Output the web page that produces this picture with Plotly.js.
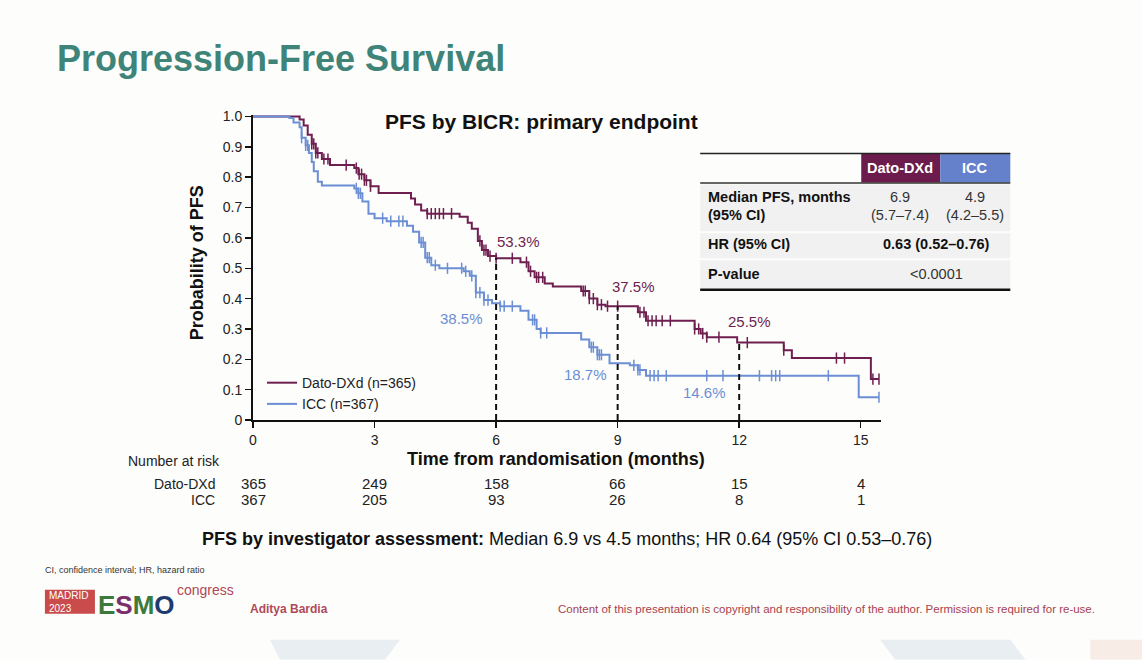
<!DOCTYPE html>
<html><head><meta charset="utf-8">
<script src="https://cdn.plot.ly/plotly-3.0.1.min.js"></script>
<style>html,body{margin:0;padding:0;background:#fdfdfb;}#chart{width:1142px;height:660px;}</style>
</head><body><div id="chart"></div>
<script>
// ---- Data ----
const datoTimes = [0,1.15,1.25,1.35,1.45,1.55,1.7,1.9,2.5,2.6,2.75,2.9,3.1,3.9,4.0,4.15,4.3,5.1,5.3,5.4,5.55,5.65,5.8,6.0,6.6,6.8,6.95,7.2,7.4,8.1,8.3,8.5,8.7,9.5,9.7,10.9,11.05,11.2,11.95,13.1,13.3,15.25,15.45];
const datoSurv  = [1.0,0.99,0.97,0.94,0.91,0.88,0.86,0.84,0.83,0.81,0.79,0.77,0.748,0.73,0.71,0.69,0.68,0.67,0.65,0.63,0.59,0.56,0.54,0.533,0.52,0.49,0.47,0.45,0.44,0.425,0.40,0.38,0.375,0.355,0.327,0.30,0.285,0.273,0.255,0.23,0.204,0.135,0.135];
const iccTimes = [0,0.9,1.0,1.15,1.2,1.3,1.38,1.45,1.5,1.6,1.7,2.5,2.6,2.7,2.85,3.0,3.3,3.8,3.95,4.1,4.25,4.4,4.6,5.2,5.35,5.5,5.7,5.9,6.1,6.6,6.8,7.0,7.1,8.1,8.3,8.5,8.8,9.3,9.5,9.7,14.95,15.45];
const iccSurv  = [1.0,0.995,0.98,0.965,0.93,0.905,0.88,0.85,0.82,0.785,0.773,0.763,0.747,0.72,0.68,0.665,0.655,0.64,0.62,0.585,0.535,0.51,0.50,0.49,0.475,0.42,0.395,0.385,0.375,0.36,0.33,0.30,0.287,0.265,0.24,0.215,0.187,0.18,0.165,0.146,0.075,0.075];
const datoCensor = [1.45,1.5,1.55,1.6,1.75,1.85,2.3,2.55,2.62,2.68,2.75,2.8,2.9,4.3,4.4,4.5,4.6,4.7,4.9,5.6,5.7,5.75,5.85,6.0,6.4,6.75,6.85,7.0,7.05,7.15,8.15,8.2,8.3,8.4,8.5,8.6,8.75,9.0,9.55,9.65,9.75,9.85,9.95,10.1,10.3,10.9,11.0,11.1,11.2,11.5,12.2,13.1,14.4,14.6,15.3,15.45];
const iccCensor = [1.2,1.3,1.35,2.55,2.6,2.65,3.2,3.4,3.6,3.7,4.15,4.2,4.3,4.35,4.5,4.8,5.15,5.25,5.4,5.5,5.6,5.7,5.8,6.1,6.2,6.4,6.9,6.95,7.1,7.25,8.35,8.4,8.5,8.55,8.6,9.4,9.5,9.55,9.8,9.9,10.0,10.2,11.2,11.6,12.5,12.8,12.9,13.0,14.2,15.45];
const landmarkTimes = [6,9,12];
const datoLandmarkLabels = ["53.3%","37.5%","25.5%"];
const iccLandmarkLabels = ["38.5%","18.7%","14.6%"];
const riskTimes = [0,3,6,9,12,15];
const riskDato = [365,249,158,66,15,4];
const riskICC = [367,205,93,26,8,1];
const xTicks = [0,3,6,9,12,15];
const yTicks = [0,0.1,0.2,0.3,0.4,0.5,0.6,0.7,0.8,0.9,1.0];
const yTickText = ["0","0.1","0.2","0.3","0.4","0.5","0.6","0.7","0.8","0.9","1.0"];

// ---- Styles ----
const PURPLE = "#6e1f50", BLUE = "#6b8ed4", TEAL = "#3f8478";
const F = '"Liberation Sans",Arial,sans-serif';

function stepAt(times, surv, t){ let v = surv[0]; for(let i=0;i<times.length;i++){ if(times[i]<=t) v=surv[i]; } return v; }

// pixel -> paper helpers
const L=253, R=1142-880.75, T=114.5, B=240;
const PW=1142-L-R, PH=660-T-B;
const px = x => (x-L)/PW, py = y => (660-B-y)/PH;

const traces = [
 {x:datoTimes,y:datoSurv,mode:'lines',line:{shape:'hv',color:PURPLE,width:2},name:'Dato-DXd (n=365)'},
 {x:iccTimes,y:iccSurv,mode:'lines',line:{shape:'hv',color:BLUE,width:2},name:'ICC (n=367)'},
 {x:datoCensor,y:datoCensor.map(t=>stepAt(datoTimes,datoSurv,t)),mode:'markers',showlegend:false,cliponaxis:false,
  marker:{symbol:'line-ns',size:8,line:{color:PURPLE,width:1.5}}},
 {x:iccCensor,y:iccCensor.map(t=>stepAt(iccTimes,iccSurv,t)),mode:'markers',showlegend:false,cliponaxis:false,
  marker:{symbol:'line-ns',size:8,line:{color:BLUE,width:1.5}}},
];
// landmark dashed lines
const lx=[], ly=[];
landmarkTimes.forEach(t=>{ lx.push(t,t,null); ly.push(0,stepAt(datoTimes,datoSurv,t),null); });
traces.push({x:lx,y:ly,mode:'lines',showlegend:false,line:{color:'#111',width:2,dash:'6px,4px'}});

const ann = [];
const A = (o)=>ann.push(Object.assign({showarrow:false,xref:'paper',yref:'paper',font:{family:F,size:15,color:'#222'}},o));
// landmark labels
const datoLabOff = [[0.55,0.055],[0.4,0.065],[0.25,0.07]];
const iccLabOff = [[-0.85,-0.05],[-0.8,-0.037],[-0.85,-0.054]];
landmarkTimes.forEach((t,i)=>{
  A({xref:'x',yref:'y',x:t+datoLabOff[i][0],y:stepAt(datoTimes,datoSurv,t)+datoLabOff[i][1],text:datoLandmarkLabels[i],font:{family:F,size:15,color:PURPLE}});
  A({xref:'x',yref:'y',x:t+iccLabOff[i][0],y:stepAt(iccTimes,iccSurv,t)+iccLabOff[i][1],text:iccLandmarkLabels[i],font:{family:F,size:15,color:BLUE}});
});
// titles
A({x:px(55),y:py(58),xanchor:'left',yanchor:'middle',text:'<b>Progression-Free Survival</b>',font:{family:F,size:36,color:TEAL}});
A({x:px(541),y:py(121),xanchor:'center',yanchor:'middle',text:'<b>PFS by BICR: primary endpoint</b>',font:{family:F,size:21,color:'#111'}});
A({x:px(197),y:py(262),textangle:-90,xanchor:'center',yanchor:'middle',text:'<b>Probability of PFS</b>',font:{family:F,size:18,color:'#111'}});
A({x:px(556),y:py(459),xanchor:'center',yanchor:'middle',text:'<b>Time from randomisation (months)</b>',font:{family:F,size:18,color:'#111'}});
// number at risk
A({x:px(222),y:py(461),xanchor:'right',yanchor:'middle',text:'Number at risk',font:{family:F,size:14,color:'#222'}});
A({x:px(217),y:py(484),xanchor:'right',yanchor:'middle',text:'Dato-DXd',font:{family:F,size:14,color:'#222'}});
A({x:px(217),y:py(500),xanchor:'right',yanchor:'middle',text:'ICC',font:{family:F,size:14,color:'#222'}});
riskTimes.forEach((t,i)=>{
  A({xref:'x',x:t,y:py(484),xanchor:'center',yanchor:'middle',text:String(riskDato[i]),font:{family:F,size:15,color:'#222'}});
  A({xref:'x',x:t,y:py(500),xanchor:'center',yanchor:'middle',text:String(riskICC[i]),font:{family:F,size:15,color:'#222'}});
});
// footer
A({x:px(200),y:py(539),xanchor:'left',yanchor:'middle',text:'<b>PFS by investigator assessment:</b> Median 6.9 vs 4.5 months; HR 0.64 (95% CI 0.53–0.76)',font:{family:F,size:18,color:'#111'}});
A({x:px(43),y:py(570),xanchor:'left',yanchor:'middle',text:'CI, confidence interval; HR, hazard ratio',font:{family:F,size:9,color:'#333'}});
A({x:px(47),y:py(602),xanchor:'left',yanchor:'middle',text:'MADRID<br>2023',align:'left',font:{family:F,size:10,color:'#fff'}});
A({x:px(96),y:py(605),xanchor:'left',yanchor:'middle',text:'<b><span style="color:#3c7a3c">E</span><span style="color:#7a2e6a">S</span><span style="color:#3c7a3c">M</span><span style="color:#1f3a6e">O</span></b>',font:{family:F,size:26,color:'#3c7a3c'}});
A({x:px(175),y:py(590),xanchor:'left',yanchor:'middle',text:'congress',font:{family:F,size:14,color:'#b04654'}});
A({x:px(248),y:py(609),xanchor:'left',yanchor:'middle',text:'<b>Aditya Bardia</b>',font:{family:F,size:12,color:'#b04a5a'}});
A({x:px(1097),y:py(609),xanchor:'right',yanchor:'middle',text:'Content of this presentation is copyright and responsibility of the author. Permission is required for re-use.',font:{family:F,size:11.5,color:'#a8414f'}});
// table text
A({x:px(706),y:py(197),xanchor:'left',yanchor:'middle',text:'<b>Median PFS, months</b>',font:{family:F,size:14.5,color:'#111'}});
A({x:px(706),y:py(215),xanchor:'left',yanchor:'middle',text:'<b>(95% CI)</b>',font:{family:F,size:14.5,color:'#111'}});
A({x:px(706),y:py(244),xanchor:'left',yanchor:'middle',text:'<b>HR (95% CI)</b>',font:{family:F,size:14.5,color:'#111'}});
A({x:px(706),y:py(274),xanchor:'left',yanchor:'middle',text:'<b>P-value</b>',font:{family:F,size:14.5,color:'#111'}});
A({x:px(900),y:py(168),xanchor:'center',yanchor:'middle',text:'<b>Dato-DXd</b>',font:{family:F,size:14.5,color:'#fff'}});
A({x:px(975),y:py(168),xanchor:'center',yanchor:'middle',text:'<b>ICC</b>',font:{family:F,size:14.5,color:'#fff'}});
A({x:px(900),y:py(197),xanchor:'center',yanchor:'middle',text:'6.9',font:{family:F,size:14.5,color:'#333'}});
A({x:px(900),y:py(215),xanchor:'center',yanchor:'middle',text:'(5.7–7.4)',font:{family:F,size:14.5,color:'#333'}});
A({x:px(975),y:py(197),xanchor:'center',yanchor:'middle',text:'4.9',font:{family:F,size:14.5,color:'#333'}});
A({x:px(975),y:py(215),xanchor:'center',yanchor:'middle',text:'(4.2–5.5)',font:{family:F,size:14.5,color:'#333'}});
A({x:px(936),y:py(244),xanchor:'center',yanchor:'middle',text:'<b>0.63 (0.52–0.76)</b>',font:{family:F,size:14.5,color:'#111'}});
A({x:px(936),y:py(274),xanchor:'center',yanchor:'middle',text:'<0.0001',font:{family:F,size:14.5,color:'#333'}});

const shapes = [];
const S = (o)=>shapes.push(Object.assign({xref:'paper',yref:'paper',layer:'below'},o));
const rect=(x0,y0,x1,y1,fill)=>S({type:'rect',x0:px(x0),x1:px(x1),y0:py(y0),y1:py(y1),fillcolor:fill,line:{width:0}});
const hline=(x0,x1,y,w,c)=>S({type:'line',x0:px(x0),x1:px(x1),y0:py(y),y1:py(y),line:{width:w,color:c}});
rect(861,153,940,182,'#6b1c4d');
rect(940,153,1010,182,'#6681cc');
rect(700,184,1010,231,'#f1f1f1');
rect(700,233,1010,258,'#f1f1f1');
rect(700,260,1010,288,'#f1f1f1');
hline(700,1010,153,1.5,'#222');
hline(700,1010,182.5,1.5,'#333');
hline(700,1010,289.5,2.5,'#111');
rect(45,590,95,614,'#c94b4b');
// faint bottom decoration
S({type:'path',path:`M ${px(270)} ${py(640)} L ${px(400)} ${py(640)} L ${px(385)} ${py(660)} L ${px(280)} ${py(660)} Z`,fillcolor:'#e8eef2',line:{width:0}});
S({type:'path',path:`M ${px(880)} ${py(640)} L ${px(1010)} ${py(640)} L ${px(1025)} ${py(660)} L ${px(895)} ${py(660)} Z`,fillcolor:'#e8eef2',line:{width:0}});
S({type:'rect',x0:px(1090),x1:px(1142),y0:py(640),y1:py(660),fillcolor:'#f7ece6',line:{width:0}});

const layout = {
  width:1142,height:660,
  margin:{l:L,r:R,t:T,b:B,pad:0},
  paper_bgcolor:'#fdfdfb',plot_bgcolor:'rgba(0,0,0,0)',
  showlegend:true,
  legend:{x:px(262),y:py(367),xanchor:'left',yanchor:'top',bgcolor:'rgba(0,0,0,0)',font:{family:F,size:14,color:'#222'},tracegroupgap:0,itemwidth:30},
  xaxis:{range:[0,15.5],tickvals:xTicks,ticktext:xTicks.map(String),showgrid:false,zeroline:false,showline:true,linecolor:'#111',linewidth:2,
         ticks:'outside',ticklen:6,tickwidth:1.5,tickcolor:'#111',tickfont:{family:F,size:14,color:'#222'}},
  yaxis:{range:[0,1.005],tickvals:yTicks,ticktext:yTickText,showgrid:false,zeroline:false,showline:true,linecolor:'#111',linewidth:2,
         ticks:'outside',ticklen:6,tickwidth:1.5,tickcolor:'#111',tickfont:{family:F,size:14,color:'#222'}},
  annotations:ann,shapes:shapes
};
Plotly.newPlot('chart',traces,layout,{displayModeBar:false,staticPlot:true});
</script></body></html>
